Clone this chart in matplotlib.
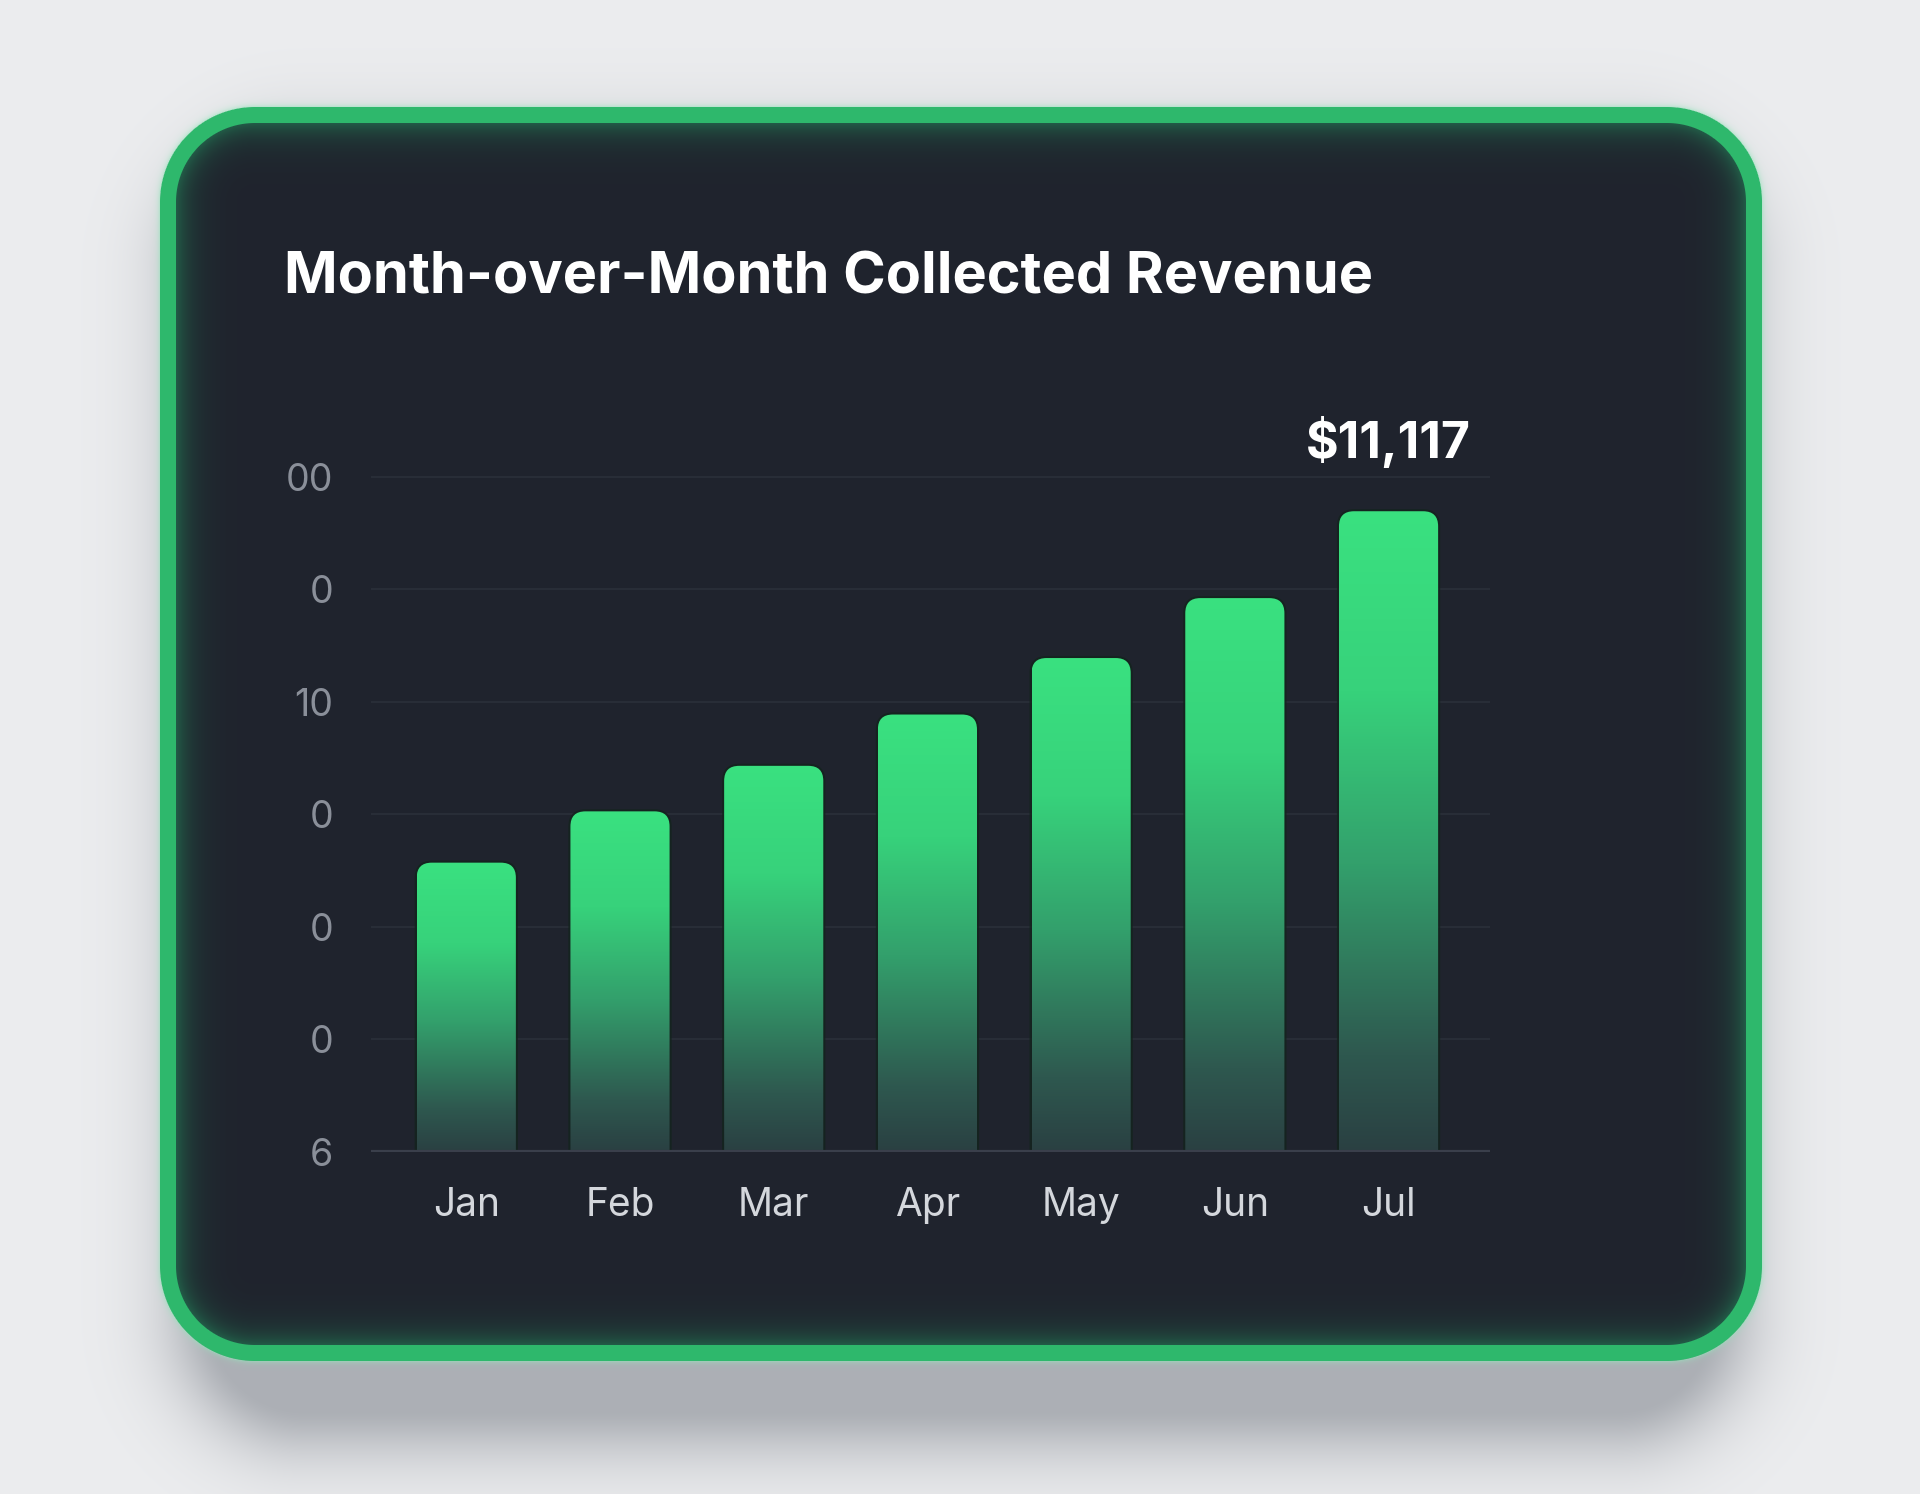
import numpy as np
import matplotlib
matplotlib.use("Agg")
import matplotlib.pyplot as plt
from matplotlib.patches import FancyBboxPatch
from matplotlib.colors import LinearSegmentedColormap

# Данные графика
months = ["Jan", "Feb", "Mar", "Apr", "May", "Jun", "Jul"]
revenue = [5020, 5910, 6700, 7590, 8570, 9610, 11117]
y_ticks = [0, 1952, 3904, 5856, 7808, 9760, 11712]
y_tick_labels = ["6", "0", "0", "0", "10", "0", "00"]
title = "Month-over-Month Collected Revenue"
peak_label = "$11,117"

W, H = 1920, 1494
FONT = ["Inter", "DejaVu Sans"]


def rrect_sdf(x, y, cx, cy, hw, hh, r):
    # расстояние до скруглённого прямоугольника (отрицательное внутри)
    qx = np.abs(x - cx) - hw + r
    qy = np.abs(y - cy) - hh + r
    outside = np.hypot(np.maximum(qx, 0), np.maximum(qy, 0))
    inside = np.minimum(np.maximum(qx, qy), 0)
    return outside + inside - r


# Фон: светлая подложка, тень, карточка с зелёной рамкой
yy, xx = np.mgrid[0:H, 0:W].astype(float) + 0.5
bg = np.array([236, 237, 239]) / 255
shadow_col = np.array([120, 125, 134]) / 255
border_col = np.array([46, 184, 108]) / 255
card_col = np.array([31, 35, 45]) / 255
glow_col = np.array([34, 98, 74]) / 255
halo_col = np.array([150, 228, 188]) / 255

cx, cy, hw, hh, rad = 961, 734, 801, 627, 95
img = np.ones((H, W, 3)) * bg

d_sh = rrect_sdf(xx, yy, cx, cy + 60, hw - 50, hh - 10, rad)
a_sh = 0.55 * np.exp(-(np.maximum(d_sh, 0) / 50) ** 1.5)
img = img * (1 - a_sh[..., None]) + shadow_col * a_sh[..., None]

d = rrect_sdf(xx, yy, cx, cy, hw, hh, rad)
a_halo = np.where(d > 0, 0.6 * np.exp(-d / 2.5), 0)
img = img * (1 - a_halo[..., None]) + halo_col * a_halo[..., None]

a_out = np.clip(0.5 - d, 0, 1)
img = img * (1 - a_out[..., None]) + border_col * a_out[..., None]

bw = 16
depth = -(d + bw)
a_in = np.clip(0.5 + depth, 0, 1)
g = 0.9 * np.exp(-np.maximum(depth, 0) / 15)
inner = card_col * (1 - g[..., None]) + glow_col * g[..., None]
img = img * (1 - a_in[..., None]) + inner * a_in[..., None]

fig = plt.figure(figsize=(W / 100, H / 100), dpi=100)
ax_bg = fig.add_axes([0, 0, 1, 1])
ax_bg.imshow(img, extent=(0, W, H, 0), interpolation="nearest")
ax_bg.axis("off")

# Область графика
left_px, right_px, top_px, base_px = 371, 1490, 420, 1152
ax = fig.add_axes([left_px / W, (H - base_px) / H,
                   (right_px - left_px) / W, (base_px - top_px) / H])
ax.patch.set_alpha(0)
ymax = 12700
xmin, xmax = -0.62, 6.66
px_x = (right_px - left_px) / (xmax - xmin)
px_y = (base_px - top_px) / ymax

for t in y_ticks[1:]:
    ax.axhline(t, color="#2a2f39", lw=1.3, zorder=1)
ax.axhline(0, color="#3a3f4b", lw=3, zorder=4)

cmap = LinearSegmentedColormap.from_list("bar", [
    (0.0, "#2a4042"), (0.15, "#2e584f"), (0.45, "#33a06c"),
    (0.72, "#37d27b"), (1.0, "#3ae180")])
grad = np.linspace(0, 1, 256).reshape(-1, 1)

bar_w = 0.645
rx = 15 / px_x
ry = 15 / px_y
for i, v in enumerate(revenue):
    x0 = i - bar_w / 2
    rim = FancyBboxPatch((x0, -3 * ry), bar_w, v + 3 * ry,
                         boxstyle=f"round,pad=0,rounding_size={rx}",
                         mutation_aspect=ry / rx, facecolor="none",
                         edgecolor="#13241d", lw=3, alpha=0.8, zorder=2)
    ax.add_patch(rim)
    clip = FancyBboxPatch((x0, -3 * ry), bar_w, v + 3 * ry,
                          boxstyle=f"round,pad=0,rounding_size={rx}",
                          mutation_aspect=ry / rx, facecolor="none",
                          edgecolor="none")
    ax.add_patch(clip)
    im = ax.imshow(grad, extent=(x0, x0 + bar_w, 0, v), origin="lower",
                   aspect="auto", cmap=cmap, zorder=3)
    im.set_clip_path(clip)

ax.annotate(peak_label, (len(revenue) - 1, revenue[-1]), xytext=(0, 50),
            textcoords="offset points", ha="center", va="center",
            fontsize=36, fontweight="bold", color="white", family=FONT,
            annotation_clip=False)

ax.set_xlim(xmin, xmax)
ax.set_ylim(0, ymax)
ax.set_xticks(range(len(months)), months)
ax.set_yticks(y_ticks, y_tick_labels)
ax.tick_params(axis="x", length=0, pad=25, labelsize=28, labelcolor="#d4d7dc")
ax.tick_params(axis="y", length=0, pad=27, labelsize=27, labelcolor="#8a8f99")
for lab in ax.get_xticklabels() + ax.get_yticklabels():
    lab.set_family(FONT)
for s in ax.spines.values():
    s.set_visible(False)

fig.text(284 / W, 1 - 278 / H, title, ha="left", va="center",
         fontsize=41.5, fontweight="bold", color="white", family=FONT)

fig.savefig("out.png", dpi=100)
